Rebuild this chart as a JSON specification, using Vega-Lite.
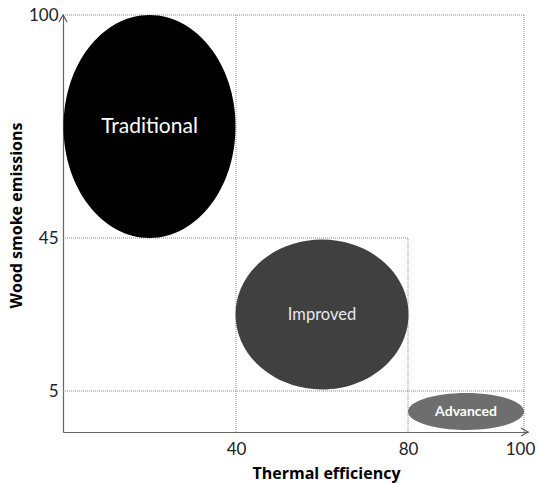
{
  "$schema": "https://vega.github.io/schema/vega-lite/v6.json",
  "width": 464,
  "height": 417,
  "autosize": {"type": "none"},
  "padding": {"left": 63, "top": 15, "right": 10, "bottom": 51},
  "background": "white",
  "config": {
    "view": {"stroke": null},
    "font": "Lato"
  },
  "datasets": {
    "stoves": [
      {"stove": "Traditional", "eff": 20, "smoke": 72.5},
      {"stove": "Improved", "eff": 60, "smoke": 25},
      {"stove": "Advanced", "eff": 90, "smoke": 2.5}
    ],
    "guides": [
      {"eff": 40, "eff2": 40, "smoke": 0, "smoke2": 100},
      {"eff": 80, "eff2": 80, "smoke": 0, "smoke2": 45},
      {"eff": 100, "eff2": 100, "smoke": 0, "smoke2": 100},
      {"eff": 0, "eff2": 100, "smoke": 100, "smoke2": 100},
      {"eff": 0, "eff2": 80, "smoke": 45, "smoke2": 45},
      {"eff": 0, "eff2": 100, "smoke": 5, "smoke2": 5}
    ]
  },
  "encoding": {
    "x": {
      "field": "eff", "type": "quantitative",
      "scale": {"domain": [0, 40, 80, 100, 101], "range": [0, 173, 345, 461, 465], "clamp": false},
      "axis": {
        "values": [40, 80, 100], "grid": false, "ticks": false,
        "domainColor": "#666", "domainWidth": 1.2,
        "labelFontSize": 17, "labelColor": "#222", "labelPadding": 9, "labelFont": "Lato",
        "labelOffset": {"expr": "datum.value === 100 ? -4 : 0"},
        "title": "Thermal efficiency", "titleFontSize": 16, "titleFontWeight": "bold",
        "titleColor": "#000", "titlePadding": 8, "titleFont": "Open Sans", "titleX": 263
      }
    },
    "y": {
      "field": "smoke", "type": "quantitative",
      "scale": {"domain": [0, 5, 45, 100], "range": [417, 376, 223, 0]},
      "axis": {
        "values": [5, 45, 100], "grid": false, "ticks": false,
        "domainColor": "#666", "domainWidth": 1.2,
        "labelFontSize": 17, "labelColor": "#222", "labelPadding": 5, "labelFont": "Lato",
        "title": "Wood smoke emissions", "titleFontSize": 16, "titleFontWeight": "bold",
        "titleColor": "#000", "titlePadding": 4, "titleFont": "Open Sans", "titleY": 200
      }
    }
  },
  "layer": [
    {
      "data": {"name": "guides"},
      "mark": {"type": "rule", "color": "#888", "strokeWidth": 1, "strokeDash": [1, 1]},
      "encoding": {
        "x2": {"field": "eff2"},
        "y2": {"field": "smoke2"}
      }
    },
    {
      "data": {"name": "stoves"},
      "mark": {"type": "point", "filled": true, "opacity": 1, "size": 4, "strokeWidth": 0},
      "encoding": {
        "shape": {
          "field": "stove", "type": "nominal", "legend": null,
          "scale": {
            "domain": ["Traditional", "Improved", "Advanced"],
            "range": [
              "M -86 0 A 86 111.5 0 1 1 86 0 A 86 111.5 0 1 1 -86 0 Z",
              "M -86.5 0 A 86.5 75 0 1 1 86.5 0 A 86.5 75 0 1 1 -86.5 0 Z",
              "M -58 0 A 58 18.5 0 1 1 58 0 A 58 18.5 0 1 1 -58 0 Z"
            ]
          }
        },
        "fill": {
          "field": "stove", "type": "nominal", "legend": null,
          "scale": {
            "domain": ["Traditional", "Improved", "Advanced"],
            "range": ["#000000", "#404040", "#6e6e6e"]
          }
        }
      }
    },
    {
      "data": {"name": "stoves"},
      "transform": [{"filter": "datum.stove === 'Traditional'"}],
      "mark": {"type": "text", "fontSize": 21, "color": "#ffffff", "font": "Lato"},
      "encoding": {"text": {"field": "stove"}}
    },
    {
      "data": {"name": "stoves"},
      "transform": [{"filter": "datum.stove === 'Improved'"}],
      "mark": {"type": "text", "fontSize": 16.5, "color": "#e6e8f2", "font": "Lato"},
      "encoding": {"text": {"field": "stove"}}
    },
    {
      "data": {"name": "stoves"},
      "transform": [{"filter": "datum.stove === 'Advanced'"}],
      "mark": {"type": "text", "fontSize": 14, "fontWeight": "bold", "color": "#ffffff", "font": "Lato"},
      "encoding": {"text": {"field": "stove"}}
    },
    {
      "data": {"values": [{"eff": 101, "smoke": 0}]},
      "mark": {"type": "point", "filled": false, "size": 4, "stroke": "#555", "strokeWidth": 1.2, "opacity": 1,
               "shape": "M -7 -4 L 0 0 L -7 4"},
      "encoding": {}
    },
    {
      "data": {"values": [{"eff": 0, "smoke": 100}]},
      "mark": {"type": "point", "filled": false, "size": 4, "stroke": "#555", "strokeWidth": 1.2, "opacity": 1,
               "shape": "M -4 7 L 0 0 L 4 7"},
      "encoding": {}
    }
  ]
}
